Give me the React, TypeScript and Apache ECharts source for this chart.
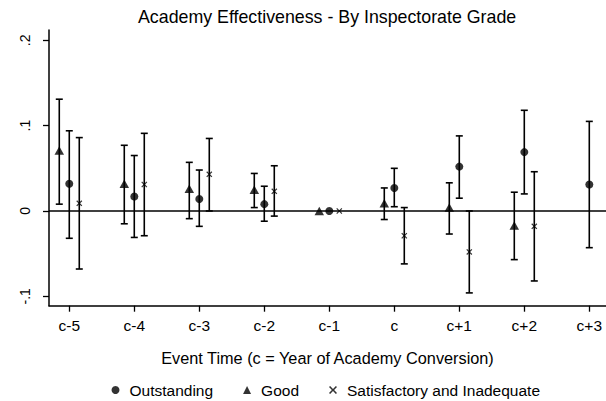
import React, { useEffect, useRef } from "react";
import * as echarts from "echarts";

const categories = ["c-5", "c-4", "c-3", "c-2", "c-1", "c", "c+1", "c+2", "c+3"];
const eventTimes = [-5, -4, -3, -2, -1, 0, 1, 2, 3];

const outstanding = [0.032, 0.017, 0.014, 0.008, 0, 0.027, 0.052, 0.069, 0.031];
const outstandingLow = [-0.032, -0.031, -0.018, -0.012, null, 0.005, 0.015, 0.02, -0.043];
const outstandingHigh = [0.094, 0.065, 0.048, 0.029, null, 0.05, 0.088, 0.118, 0.105];

const good = [0.071, 0.032, 0.026, 0.025, 0, 0.009, 0.004, -0.017, null];
const goodLow = [0.008, -0.015, -0.009, 0.004, null, -0.01, -0.027, -0.057, null];
const goodHigh = [0.131, 0.077, 0.057, 0.044, null, 0.027, 0.033, 0.022, null];

const satisfactory = [0.009, 0.031, 0.043, 0.023, 0, -0.029, -0.048, -0.018, null];
const satisfactoryLow = [-0.068, -0.029, 0.0, -0.006, null, -0.062, -0.096, -0.082, null];
const satisfactoryHigh = [0.086, 0.091, 0.085, 0.053, null, 0.004, 0.0, 0.046, null];

const yTicks = [-0.1, 0, 0.1, 0.2];

const FONT = "'Liberation Sans', Arial, Helvetica, sans-serif";
const X_SYMBOL = "path://M0,1.4L1.4,0L5,3.6L8.6,0L10,1.4L6.4,5L10,8.6L8.6,10L5,6.4L1.4,10L0,8.6L3.6,5Z";

function fmtY(v: number): string {
  if (Math.abs(v) < 1e-9) return "0";
  const s = String(Math.round(Math.abs(v) * 10) / 10).replace(/^0/, "");
  return (v < 0 ? "-" : "") + s;
}

function pointData(vals: (number | null)[]) {
  return vals
    .map((v, i) => (v == null ? null : [eventTimes[i], v]))
    .filter((d) => d != null);
}

function barData(lo: (number | null)[], hi: (number | null)[]) {
  return lo
    .map((l, i) => (l == null || hi[i] == null ? null : [eventTimes[i], l, hi[i]]))
    .filter((d) => d != null);
}

function errorBars(name: string, lo: (number | null)[], hi: (number | null)[], offsetPx: number) {
  return {
    type: "custom",
    name: name + " CI",
    silent: true,
    z: 3,
    encode: { x: 0, y: [1, 2] },
    data: barData(lo, hi),
    renderItem: (params: any, api: any) => {
      const x = api.value(0);
      const p1 = api.coord([x, api.value(1)]);
      const p2 = api.coord([x, api.value(2)]);
      const cx = p1[0] + offsetPx;
      const cap = 3.5;
      const style = { stroke: "#000", lineWidth: 1.6, fill: null };
      return {
        type: "group",
        children: [
          { type: "line", shape: { x1: cx, y1: p1[1], x2: cx, y2: p2[1] }, style },
          { type: "line", shape: { x1: cx - cap, y1: p1[1], x2: cx + cap, y2: p1[1] }, style },
          { type: "line", shape: { x1: cx - cap, y1: p2[1], x2: cx + cap, y2: p2[1] }, style },
        ],
      };
    },
  };
}

export default function App() {
  const ref = useRef<HTMLDivElement>(null);
  useEffect(() => {
    if (!ref.current) return;
    const chart = echarts.init(ref.current, undefined, { renderer: "svg" });
    const option: any = {
      animation: false,
      backgroundColor: "#fff",
      textStyle: { fontFamily: FONT, color: "#000" },
      title: {
        text: "Academy Effectiveness - By Inspectorate Grade",
        left: 138,
        top: 8,
        padding: 0,
        textStyle: { fontFamily: FONT, fontSize: 17.8, fontWeight: "normal", color: "#000" },
      },
      grid: { left: 49, right: 0, top: 30, bottom: 95.3, containLabel: false },
      legend: {
        top: 382,
        left: 111.5,
        padding: 0,
        itemWidth: 8,
        itemHeight: 8,
        itemGap: 30,
        textStyle: { fontFamily: FONT, fontSize: 15.5, color: "#000", padding: [0, 0, 0, 5] },
        data: [
          { name: "Outstanding", icon: "circle" },
          { name: "Good", icon: "triangle" },
          { name: "Satisfactory and Inadequate", icon: X_SYMBOL },
        ],
      },
      xAxis: {
        type: "value",
        min: -5.312,
        max: 3.257,
        name: "Event Time (c = Year of Academy Conversion)",
        nameLocation: "middle",
        nameGap: 44,
        nameTextStyle: { fontFamily: FONT, fontSize: 16.3, color: "#000" },
        axisLine: { show: true, onZero: false, lineStyle: { color: "#000", width: 1.5 } },
        axisTick: { show: true, length: 6, customValues: eventTimes, lineStyle: { color: "#000", width: 1.3 } },
        axisLabel: {
          customValues: eventTimes,
          margin: 12,
          fontFamily: FONT,
          fontSize: 15.5,
          color: "#000",
          formatter: (v: number) => categories[Math.round(v) + 5] ?? "",
        },
        splitLine: { show: false },
      },
      yAxis: {
        type: "value",
        min: -0.111,
        max: 0.2121,
        axisLine: { show: true, onZero: false, lineStyle: { color: "#000", width: 1.5 } },
        axisTick: { show: true, length: 6, customValues: yTicks, lineStyle: { color: "#000", width: 1.3 } },
        axisLabel: {
          customValues: yTicks,
          rotate: 90,
          margin: 17,
          fontFamily: FONT,
          fontSize: 14,
          color: "#000",
          formatter: (v: number) => fmtY(v),
        },
        splitLine: { show: false },
      },
      series: [
        errorBars("Good", goodLow, goodHigh, -10),
        errorBars("Outstanding", outstandingLow, outstandingHigh, 0),
        errorBars("Satisfactory and Inadequate", satisfactoryLow, satisfactoryHigh, 10),
        {
          type: "scatter",
          name: "Outstanding",
          symbol: "circle",
          symbolSize: 8,
          z: 4,
          itemStyle: { color: "#000" },
          data: pointData(outstanding),
          markLine: {
            silent: true,
            symbol: ["none", "none"],
            label: { show: false },
            lineStyle: { color: "#000", width: 1.5, type: "solid" },
            data: [{ yAxis: 0 }],
          },
        },
        {
          type: "scatter",
          name: "Good",
          symbol: "triangle",
          symbolSize: [9.5, 8.5],
          symbolOffset: [-10, 0],
          z: 4,
          itemStyle: { color: "#000" },
          data: pointData(good),
        },
        {
          type: "scatter",
          name: "Satisfactory and Inadequate",
          symbol: X_SYMBOL,
          symbolSize: 6,
          symbolOffset: [10, 0],
          z: 4,
          itemStyle: { color: "#000" },
          data: pointData(satisfactory),
        },
      ],
    };
    chart.setOption(option);
    return () => chart.dispose();
  }, []);
  return <div ref={ref} style={{ width: 606, height: 401, position: "absolute", left: 0, top: 0 }} />;
}
